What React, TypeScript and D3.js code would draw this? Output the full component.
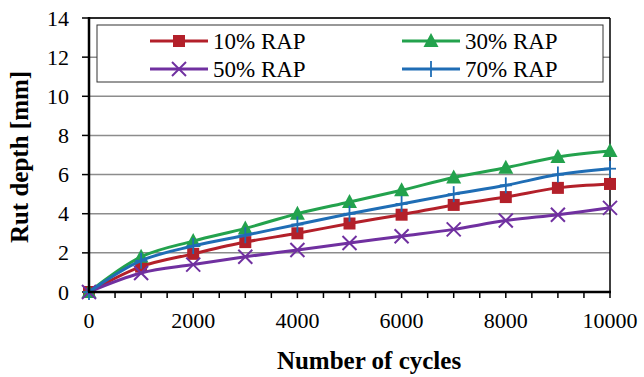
import React from "react";
import * as d3 from "d3";

const cycles = [0, 1000, 2000, 3000, 4000, 5000, 6000, 7000, 8000, 9000, 10000];
const rap10 = [0, 1.3, 1.95, 2.55, 3.0, 3.5, 3.95, 4.45, 4.85, 5.32, 5.52];
const rap30 = [0, 1.8, 2.6, 3.25, 4.0, 4.6, 5.2, 5.85, 6.35, 6.9, 7.2];
const rap50 = [0, 0.97, 1.4, 1.8, 2.15, 2.5, 2.85, 3.2, 3.65, 3.95, 4.3];
const rap70 = [0, 1.6, 2.35, 2.9, 3.45, 4.0, 4.5, 5.0, 5.45, 6.0, 6.3];
const seriesNames = ["10% RAP", "30% RAP", "50% RAP", "70% RAP"];
const yTicks = [0, 2, 4, 6, 8, 10, 12, 14];
const xTicks = [0, 2000, 4000, 6000, 8000, 10000];
const xMinorTicks = d3.range(0, 10001, 500);

const colors = ["#B3202A", "#23A24D", "#7030A0", "#1F6DB5"];
const markers = ["square", "triangle", "x", "plus"];

const W = 644, H = 377;
const m = { left: 89, right: 34, top: 18, bottom: 85 };
const FONT = '"Liberation Serif", "Times New Roman", serif';

function Marker({ type, x, y, color }: { type: string; x: number; y: number; color: string }) {
  if (type === "square") return <rect x={x - 6} y={y - 6} width={12} height={12} fill={color} />;
  if (type === "triangle") {
    const p = `${x},${y - 8} ${x + 7.5},${y + 6} ${x - 7.5},${y + 6}`;
    return <polygon points={p} fill={color} />;
  }
  if (type === "x")
    return (
      <g stroke={color} strokeWidth={2}>
        <line x1={x - 7} y1={y - 7} x2={x + 7} y2={y + 7} />
        <line x1={x - 7} y1={y + 7} x2={x + 7} y2={y - 7} />
      </g>
    );
  return (
    <g stroke={color} strokeWidth={1.8}>
      <line x1={x} y1={y - 8} x2={x} y2={y + 8} />
      <line x1={x - 6} y1={y} x2={x + 6} y2={y} />
    </g>
  );
}

export default function App() {
  const x = d3.scaleLinear().domain([0, 10000]).range([m.left, W - m.right]);
  const y = d3.scaleLinear().domain([0, 14]).range([H - m.bottom, m.top]);
  const data = [rap10, rap30, rap50, rap70];
  const line = d3
    .line<number>()
    .x((_, i) => x(cycles[i]))
    .y((d) => y(d))
    .curve(d3.curveCatmullRom.alpha(0.5));
  const ts = { fontFamily: FONT };
  const legendPos = [
    { lx: 150, ly: 41 },
    { lx: 402, ly: 41 },
    { lx: 150, ly: 69 },
    { lx: 402, ly: 69 },
  ];
  return (
    <svg width={W} height={H} style={{ position: "absolute", left: 0, top: 0, background: "#fff", fontFamily: FONT }}>
      {yTicks.slice(1).map((t) => (
        <line key={t} x1={x(0)} x2={x(10000)} y1={y(t)} y2={y(t)} stroke="#8c8c8c" strokeWidth={1.5} />
      ))}
      <line x1={x(0)} x2={x(10000)} y1={y(14)} y2={y(14)} stroke="#000" strokeWidth={1.5} />
      <line x1={x(10000)} x2={x(10000)} y1={y(14)} y2={y(0)} stroke="#000" strokeWidth={1.5} />
      {yTicks.map((t) => (
        <g key={t}>
          <line x1={x(0) - 7} x2={x(0)} y1={y(t)} y2={y(t)} stroke="#000" strokeWidth={1.5} />
          <text x={x(0) - 20} y={y(t) + 7.5} textAnchor="end" fontSize={22} style={ts}>
            {t}
          </text>
        </g>
      ))}
      {xMinorTicks.map((t) => (
        <line key={t} x1={x(t)} x2={x(t)} y1={y(0)} y2={y(0) + 6} stroke="#000" strokeWidth={1.5} />
      ))}
      {xTicks.map((t) => (
        <text key={t} x={x(t)} y={y(0) + 36} textAnchor="middle" fontSize={22} style={ts}>
          {t}
        </text>
      ))}
      {data.map((s, si) => (
        <g key={si}>
          <path d={line(s) || ""} fill="none" stroke={colors[si]} strokeWidth={3} />
          {s.map((v, i) => (
            <Marker key={i} type={markers[si]} x={x(cycles[i])} y={y(v)} color={colors[si]} />
          ))}
        </g>
      ))}
      <line x1={x(0)} x2={x(0)} y1={y(14) - 1} y2={y(0)} stroke="#000" strokeWidth={2.5} />
      <line x1={x(0) - 1} x2={x(10000) + 1} y1={y(0)} y2={y(0)} stroke="#000" strokeWidth={2.5} />
      <rect x={97} y={25} width={506} height={57} fill="#fff" stroke="#333" strokeWidth={1} />
      {seriesNames.map((n, i) => {
        const { lx, ly } = legendPos[i];
        return (
          <g key={n}>
            <line x1={lx} x2={lx + 58} y1={ly} y2={ly} stroke={colors[i]} strokeWidth={3} />
            <Marker type={markers[i]} x={lx + 29} y={ly} color={colors[i]} />
            <text x={lx + 63} y={ly + 7.5} fontSize={23} style={ts}>
              {n}
            </text>
          </g>
        );
      })}
      <text x={369} y={369} textAnchor="middle" fontSize={25} fontWeight="bold" style={ts}>
        Number of cycles
      </text>
      <text transform={`translate(28,157) rotate(-90)`} textAnchor="middle" fontSize={25} fontWeight="bold" style={ts}>
        Rut depth [mm]
      </text>
    </svg>
  );
}
